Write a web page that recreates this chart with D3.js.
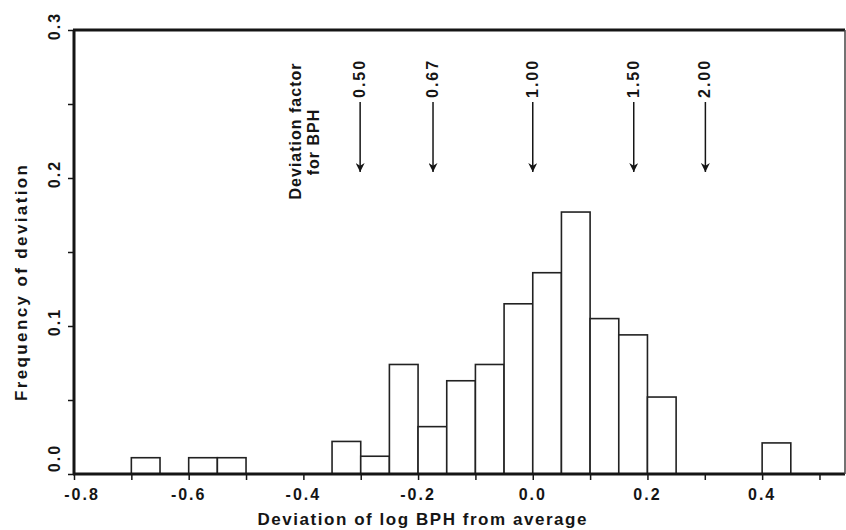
<!DOCTYPE html>
<html>
<head>
<meta charset="utf-8">
<script src="https://cdn.jsdelivr.net/npm/d3@7"></script>
<style>
  html, body { margin: 0; padding: 0; background: #fff; }
  svg { display: block; }
  text { font-family: "Liberation Sans", Arial, Helvetica, sans-serif; font-weight: bold; fill: #151515; }
</style>
</head>
<body>
<svg id="chart" width="846" height="530"></svg>
<script>
// ---- data ----
const binStarts = [-0.70, -0.60, -0.55, -0.35, -0.30, -0.25, -0.20, -0.15, -0.10, -0.05, 0.00, 0.05, 0.10, 0.15, 0.20, 0.40];
const frequencies = [0.011, 0.011, 0.011, 0.022, 0.012, 0.074, 0.032, 0.063, 0.074, 0.115, 0.136, 0.177, 0.105, 0.094, 0.052, 0.021];
const binWidth = 0.05;
const deviationFactors = [0.50, 0.67, 1.00, 1.50, 2.00];
const factorLabels = ["0.50", "0.67", "1.00", "1.50", "2.00"];
const xTickValues = [-0.8, -0.7, -0.6, -0.5, -0.4, -0.3, -0.2, -0.1, 0.0, 0.1, 0.2, 0.3, 0.4, 0.5];
const xTickLabels = ["-0.8", "-0.6", "-0.4", "-0.2", "0.0", "0.2", "0.4"];
const yTickValues = [0, 0.05, 0.1, 0.15, 0.2, 0.25, 0.3];
const yTickLabels = ["0.0", "0.1", "0.2", "0.3"];
const xTitle = "Deviation of log BPH from average";
const yTitle = "Frequency of deviation";
const factorTitle = ["Deviation factor", "for BPH"];

// ---- layout ----
(function () {
const svg = d3.select("#chart");
const mLeft = 74, mRight = 845, mTop = 30, mBottom = 474;
const x = d3.scaleLinear().domain([-0.8, 0.5445]).range([mLeft, mRight]);
const y = d3.scaleLinear().domain([0, 0.3]).range([mBottom, mTop]);
const ink = "#151515";

// bars
svg.append("g").selectAll("rect")
  .data(binStarts.map((s, i) => ({ s, f: frequencies[i] })))
  .join("rect")
  .attr("x", d => x(d.s))
  .attr("y", d => y(d.f))
  .attr("width", d => x(d.s + binWidth) - x(d.s))
  .attr("height", d => y(0) - y(d.f))
  .attr("fill", "#fff")
  .attr("stroke", "#222")
  .attr("stroke-width", 1.6);

// x axis ticks
const xAxis = d3.axisBottom(x).tickValues(xTickValues).tickSize(6).tickFormat("");
const gx = svg.append("g").attr("transform", `translate(0,${mBottom})`).call(xAxis);
gx.select(".domain").remove();
gx.selectAll("line").attr("stroke", ink).attr("stroke-width", 1.5);

// y axis ticks
const yAxis = d3.axisLeft(y).tickValues(yTickValues).tickSize(6).tickFormat("");
const gy = svg.append("g").attr("transform", `translate(${mLeft},0)`).call(yAxis);
gy.select(".domain").remove();
gy.selectAll("line").attr("stroke", ink).attr("stroke-width", 1.5);

// frame
svg.append("line").attr("x1", x(-0.8) - 1).attr("x2", mRight).attr("y1", y(0.3)).attr("y2", y(0.3))
  .attr("stroke", ink).attr("stroke-width", 3);
svg.append("line").attr("x1", x(-0.8)).attr("x2", x(-0.8)).attr("y1", y(0.3)).attr("y2", y(0) + 1)
  .attr("stroke", ink).attr("stroke-width", 3);
svg.append("line").attr("x1", x(-0.8) - 1).attr("x2", mRight).attr("y1", y(0)).attr("y2", y(0))
  .attr("stroke", ink).attr("stroke-width", 3);
svg.append("line").attr("x1", mRight).attr("x2", mRight).attr("y1", y(0.3)).attr("y2", y(0))
  .attr("stroke", "#444").attr("stroke-width", 1.5);

// x tick labels
xTickLabels.forEach((t, i) => {
  const v = +t;
  svg.append("text")
    .attr("x", x(v) + (i === 0 ? 8 : 0))
    .attr("y", 500)
    .attr("text-anchor", "middle")
    .attr("font-size", 16)
    .attr("letter-spacing", 2)
    .text(t);
});

// y tick labels (rotated)
yTickLabels.forEach((t, i) => {
  const v = +t;
  const cy = y(v) - (i === 0 ? 16 : 4);
  svg.append("text")
    .attr("transform", `translate(60,${cy}) rotate(-90)`)
    .attr("text-anchor", "middle")
    .attr("font-size", 16)
    .attr("letter-spacing", 2)
    .text(t);
});

// axis titles
svg.append("text")
  .attr("x", 422).attr("y", 525)
  .attr("text-anchor", "middle")
  .attr("font-size", 17)
  .attr("textLength", 329).attr("lengthAdjust", "spacing")
  .text(xTitle);
svg.append("text")
  .attr("transform", `translate(27,283) rotate(-90)`)
  .attr("text-anchor", "middle")
  .attr("font-size", 17)
  .attr("textLength", 236).attr("lengthAdjust", "spacing")
  .text(yTitle);

// deviation factor title
svg.append("text")
  .attr("transform", `translate(301,131) rotate(-90)`)
  .attr("text-anchor", "middle")
  .attr("font-size", 16)
  .attr("letter-spacing", 1)
  .text(factorTitle[0]);
svg.append("text")
  .attr("transform", `translate(319,142) rotate(-90)`)
  .attr("text-anchor", "middle")
  .attr("font-size", 16)
  .attr("letter-spacing", 1)
  .text(factorTitle[1]);

// arrows
svg.append("defs").append("marker")
  .attr("id", "arrowhead")
  .attr("viewBox", "0 0 10 10")
  .attr("refX", 10).attr("refY", 5)
  .attr("markerWidth", 9).attr("markerHeight", 9)
  .attr("markerUnits", "userSpaceOnUse")
  .attr("orient", "auto")
  .append("path").attr("d", "M0,0 L10,5 L0,10 L3,5 Z").attr("fill", ink);

deviationFactors.forEach((f, i) => {
  const ax = x(Math.log10(f));
  svg.append("line")
    .attr("x1", ax).attr("x2", ax)
    .attr("y1", 102).attr("y2", 172)
    .attr("stroke", ink).attr("stroke-width", 1.5)
    .attr("marker-end", "url(#arrowhead)");
  svg.append("text")
    .attr("transform", `translate(${ax + 5},98) rotate(-90)`)
    .attr("text-anchor", "start")
    .attr("font-size", 16)
    .attr("letter-spacing", 2)
    .text(factorLabels[i]);
});
})();
</script>
</body>
</html>
